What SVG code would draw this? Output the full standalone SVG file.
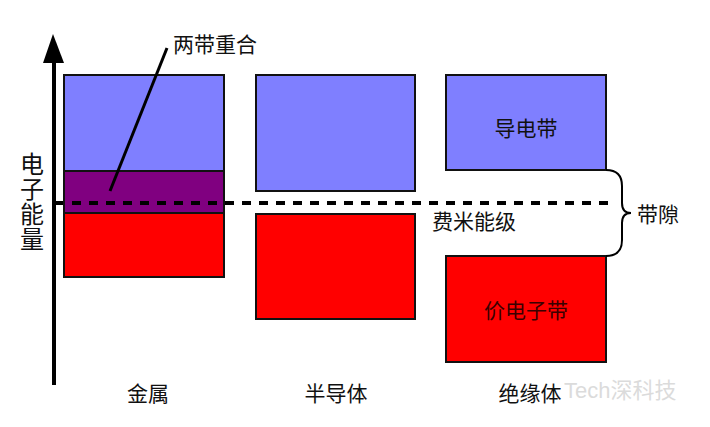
<svg xmlns="http://www.w3.org/2000/svg" width="710" height="427" viewBox="0 0 710 427">
<style>
.t{font-family:"Liberation Sans","Noto Sans CJK SC",sans-serif;font-size:21px;fill:#111}
.band{stroke:#111;stroke-width:2}
.cb{fill:#7f7fff}
.vb{fill:#ff0000}
.ov{fill:#800080}
</style>
<rect width="710" height="427" fill="#fff"/>
<g id="metal">
<rect class="band cb" x="64" y="75" width="160" height="96"/>
<rect class="band ov" x="64" y="171" width="160" height="42"/>
<rect class="band vb" x="64" y="213" width="160" height="64"/>
<text class="t" x="148" y="401" text-anchor="middle">金属</text>
</g>
<g id="semiconductor">
<rect class="band cb" x="256" y="75" width="159" height="116"/>
<rect class="band vb" x="256" y="214" width="159" height="105"/>
<text class="t" x="336" y="401" text-anchor="middle">半导体</text>
</g>
<g id="insulator">
<rect class="band cb" x="446" y="75" width="160" height="95"/>
<rect class="band vb" x="446" y="256" width="160" height="106"/>
<text class="t" x="526" y="136" text-anchor="middle">导电带</text>
<text class="t" x="526" y="318" text-anchor="middle" style="fill:#3a0000">价电子带</text>
<text class="t" x="530" y="401" text-anchor="middle">绝缘体</text>
</g>
<g id="axis">
<line x1="54" y1="385" x2="54" y2="60" stroke="#000" stroke-width="4"/>
<polygon points="53,34 43,63 64,63" fill="#000"/>
<text class="t" x="32" y="173" text-anchor="middle" style="font-size:24px">电</text>
<text class="t" x="32" y="198" text-anchor="middle" style="font-size:24px">子</text>
<text class="t" x="32" y="223" text-anchor="middle" style="font-size:24px">能</text>
<text class="t" x="32" y="248" text-anchor="middle" style="font-size:24px">量</text>
</g>
<g id="connectors">
<line x1="54" y1="203" x2="63" y2="203" stroke="#000" stroke-width="4"/>
<line x1="72" y1="203" x2="610" y2="203" stroke="#000" stroke-width="4" stroke-dasharray="9 8"/>
<line x1="110" y1="191" x2="167" y2="48" stroke="#000" stroke-width="3"/>
<path d="M606,170 Q622,170 622,186 L622,203 Q622,213 631,213 Q622,213 622,223 L622,240 Q622,256 606,256" fill="none" stroke="#000" stroke-width="2"/>
</g>
<g id="labels">
<text class="t" x="173" y="52">两带重合</text>
<text class="t" x="432" y="229">费米能级</text>
<text class="t" x="637" y="222">带隙</text>
</g>
<g id="watermark" opacity="0.35">
<text class="t" x="564" y="398" style="fill:#999;font-size:22px">Tech深科技</text>
</g>
</svg>
